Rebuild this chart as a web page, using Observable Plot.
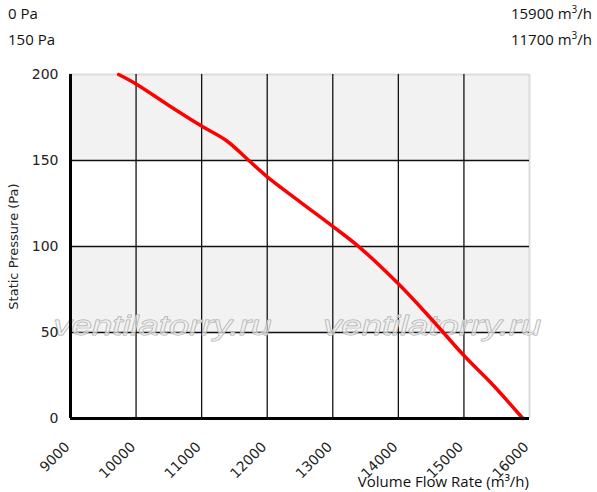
<!DOCTYPE html>
<html><head><meta charset="utf-8">
<script src="https://cdn.jsdelivr.net/npm/d3@7"></script>
<script src="https://cdn.jsdelivr.net/npm/@observablehq/plot@0.6"></script>
<style>
body{margin:0;background:#fff;}
#wrap{position:relative;width:597px;height:492px;}
.t{position:absolute;font-family:"Open Sans",sans-serif;font-size:15px;color:#111;white-space:nowrap;line-height:1;}
.r{text-align:right;}
sup{font-size:10px;vertical-align:6px;line-height:0;}
</style></head>
<body><div id="wrap"></div>
<script>
const flow = [9735, 10000, 10500, 11000, 11380, 11720, 12000, 12500, 13000, 13400, 14000, 14500, 15000, 15450, 15900];
const pressure = [200, 194.5, 182, 170, 161.5, 150, 140.5, 126, 111.7, 99.8, 78.3, 58, 36.6, 19.2, 0];
const xTicks = [9000, 10000, 11000, 12000, 13000, 14000, 15000, 16000];
const yTicks = [0, 50, 100, 150, 200];
const bandLow = [50, 150];
const bandHigh = [100, 200];
const gridYValues = [50, 100, 150];
const pointsLeft = ["0 Pa", "150 Pa"];
const pointsRight = ["15900", "11700"];
const watermarkText = ["ventilatorry.ru", "ventilatorry.ru"];
const watermarkX = [10404, 14516];
const watermarkY = [48.3, 48.3];

const curve = flow.map((f, i) => ({f, p: pressure[i]}));
const bands = bandLow.map((y1, i) => ({y1, y2: bandHigh[i]}));
const marks = watermarkText.map((t, i) => ({t, x: watermarkX[i], y: watermarkY[i]}));

const chart = Plot.plot({
  width: 597, height: 492,
  marginLeft: 70, marginRight: 68, marginTop: 74, marginBottom: 74,
  style: {fontFamily: "DejaVu Sans", fontSize: "14px", color: "#222", background: "#fff"},
  x: {domain: [9000, 16000]},
  y: {domain: [0, 200]},
  marks: [
    Plot.rect(bands, {y1: "y1", y2: "y2", fill: "#f2f2f2"}),
    Plot.ruleY([200], {stroke: "#dcdcdc", strokeWidth: 2}),
    Plot.ruleX([16000], {stroke: "#dcdcdc", strokeWidth: 2}),
    Plot.gridX(xTicks.slice(1, -1), {stroke: "#111", strokeOpacity: 1, strokeWidth: 1.3}),
    Plot.gridY(gridYValues, {stroke: "#111", strokeOpacity: 1, strokeWidth: 1.3}),
    Plot.text(marks, {x: "x", y: "y", text: "t", lineAnchor: "bottom", fontSize: 28, fontStyle: "italic",
      fontFamily: "Liberation Sans", fill: "#f5f5f5", fillOpacity: 0.6, stroke: "#a8a8a8", strokeWidth: 0.9}),
    Plot.line(curve, {x: "f", y: "p", stroke: "#ff0000", strokeWidth: 3.5, curve: "catmull-rom"}),
    Plot.ruleX([9000], {stroke: "#000", strokeWidth: 3}),
    Plot.ruleY([0], {stroke: "#000", strokeWidth: 3, x1: 9000, x2: 16000}),
    Plot.axisY({ticks: yTicks, tickSize: 0, tickPadding: 12, fontSize: 14,
      label: "Static Pressure (Pa)", labelAnchor: "center", labelArrow: "none", labelOffset: 62}),
    Plot.axisX({ticks: xTicks, tickFormat: d => String(d), tickSize: 0, tickPadding: 26, dx: -3, tickRotate: -45, fontSize: 14, label: null})
  ]
});
const wrap = document.getElementById("wrap");
wrap.appendChild(chart);
chart.style.position = "absolute"; chart.style.left = "0"; chart.style.top = "0";
chart.querySelectorAll("g[aria-label='y-axis label'] text").forEach(t => t.setAttribute("font-size", 13));
chart.querySelectorAll("text").forEach(t => {
  if (watermarkText.includes(t.textContent)) {
    t.setAttribute("textLength", 218);
    t.setAttribute("lengthAdjust", "spacingAndGlyphs");
  }
});

function addText(html, style, cls) {
  const d = document.createElement("div");
  d.className = "t " + (cls || "");
  d.innerHTML = html;
  Object.assign(d.style, style);
  wrap.appendChild(d);
}
addText(pointsLeft[0], {left: "8px", top: "6px"});
addText(pointsLeft[1], {left: "8px", top: "32px"});
addText(pointsRight[0] + " m<sup>3</sup>/h", {right: "5px", top: "6px"}, "r");
addText(pointsRight[1] + " m<sup>3</sup>/h", {right: "5px", top: "32px"}, "r");
addText("Volume Flow Rate (m³/h)", {right: "68px", top: "474px"}, "r");
</script></body></html>
